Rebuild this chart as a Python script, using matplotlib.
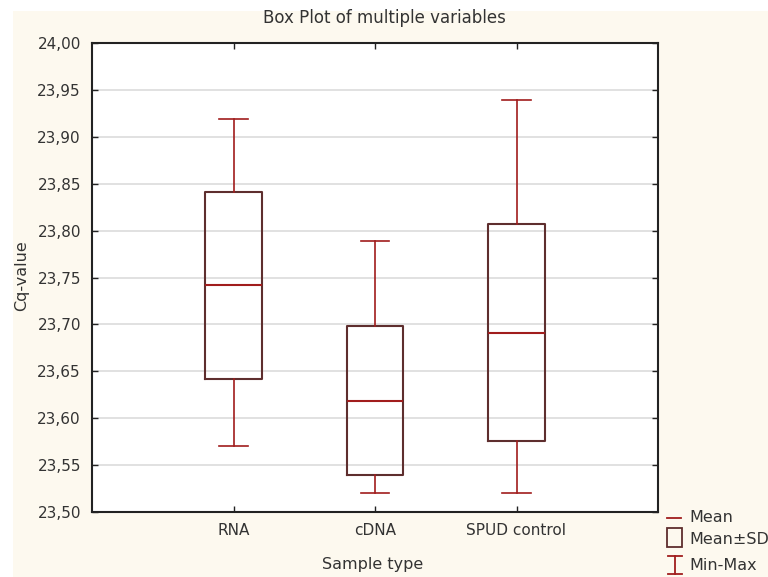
import matplotlib
matplotlib.use('Agg')
import matplotlib.pyplot as plt
from matplotlib.patches import Rectangle
from matplotlib.lines import Line2D
from matplotlib.ticker import FuncFormatter, MultipleLocator

# values
samples = ['RNA', 'cDNA', 'SPUD control']
means = [23.742, 23.618, 23.691]
sd_low = [23.642, 23.539, 23.576]
sd_high = [23.841, 23.698, 23.807]
mins = [23.570, 23.520, 23.520]
maxs = [23.919, 23.789, 23.939]

box_col = '#5e2e2e'
red = '#a11d1d'
cream = '#fdf9ef'
txt = '#333333'

fig = plt.figure(figsize=(7.68, 5.77), dpi=100)
fig.patch.set_facecolor('white')
fig.add_artist(Rectangle((13 / 768, 0), 1, 1 - 11 / 577, transform=fig.transFigure,
                         facecolor=cream, edgecolor='none', zorder=-10))

ax = fig.add_axes([92 / 768, 1 - 512 / 577, 566 / 768, 469 / 577])
ax.set_facecolor('white')

stats = []
for name, m, lo, hi, mn, mx in zip(samples, means, sd_low, sd_high, mins, maxs):
    stats.append({'label': name, 'med': m, 'q1': lo, 'q3': hi, 'whislo': mn, 'whishi': mx})

positions = list(range(1, len(samples) + 1))
ax.bxp(stats, positions=positions, widths=0.4, capwidths=0.2, showfliers=False,
       boxprops=dict(color=box_col, linewidth=1.5),
       medianprops=dict(color=red, linewidth=1.5),
       whiskerprops=dict(color=red, linewidth=1.2),
       capprops=dict(color=red, linewidth=1.2))

ax.set_xlim(0, 4)
ax.set_ylim(23.5, 24.0)
ax.yaxis.set_major_locator(MultipleLocator(0.05))
ax.yaxis.set_major_formatter(FuncFormatter(lambda v, p: f'{v:.2f}'.replace('.', ',')))
ax.set_xticks(positions)
ax.set_xticklabels(samples)
ax.grid(axis='y', color='#dcdcdc', linewidth=1.2)
ax.set_axisbelow(True)
ax.tick_params(direction='in', top=True, right=True, length=4, width=1, labelsize=11,
               colors='#222222', labelcolor=txt, pad=8)
for s in ax.spines.values():
    s.set_linewidth(1.5)
    s.set_color('#222222')

fig.text(0.5, 1 - 18 / 577, 'Box Plot of multiple variables', ha='center', va='center',
         fontsize=12, color=txt)
fig.text(22 / 768, 1 - 276 / 577, 'Cq-value', rotation=90, ha='center', va='center',
         fontsize=11.5, color=txt)
fig.text(373 / 768, 1 - 565 / 577, 'Sample type', ha='center', va='center',
         fontsize=11.5, color=txt)

# legend drawn by hand in pixel coords
def px(x, y):
    return x / 768, 1 - y / 577

tf = fig.transFigure
x0, y0 = px(667, 518); x1, _ = px(681, 518)
fig.add_artist(Line2D([x0, x1], [y0, y0], color=red, lw=1.3, transform=tf))
rx, ry = px(667, 547)
fig.add_artist(Rectangle((rx, ry), 15 / 768, 19 / 577, transform=tf, facecolor='none',
                         edgecolor=box_col, lw=1.3))
cx, ct = px(675, 556); _, cb = px(675, 574)
fig.add_artist(Line2D([cx, cx], [ct, cb], color=red, lw=1.3, transform=tf))
for yy in (ct, cb):
    fig.add_artist(Line2D([px(668, 0)[0], px(682, 0)[0]], [yy, yy], color=red, lw=1.3, transform=tf))
for label, yy in [('Mean', 518), ('Mean±SD', 539), ('Min-Max', 565)]:
    tx, ty = px(689, yy)
    fig.text(tx, ty, label, ha='left', va='center', fontsize=11.5, color=txt)

fig.savefig('out.png', dpi=100, facecolor=fig.get_facecolor())
